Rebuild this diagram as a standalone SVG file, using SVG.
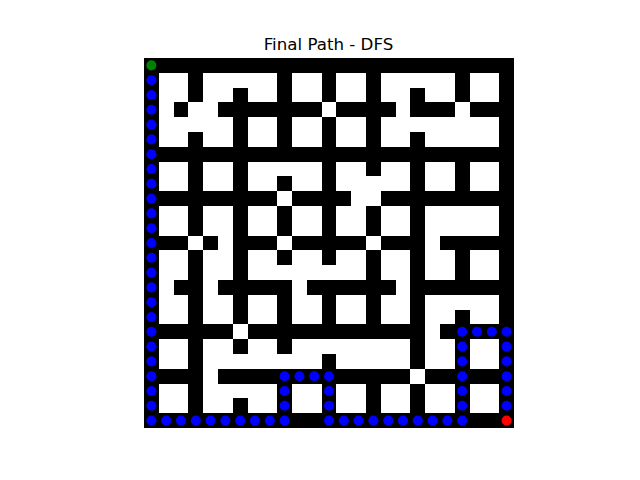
<svg xmlns="http://www.w3.org/2000/svg" width="640" height="480" viewBox="0 0 640 480">
<style>
.w{fill:#ffffff}
.p{fill:#0000ff}
.title{font-family:"DejaVu Sans",sans-serif;font-size:16.67px;fill:#000000}
</style>
<rect x="0" y="0" width="640" height="480" fill="#ffffff"/>
<text class="title" x="328.5" y="49.7" text-anchor="middle">Final Path - DFS</text>
<g id="maze" transform="translate(144,58) scale(14.8)" shape-rendering="crispEdges">
<rect x="0" y="0" width="25" height="25" fill="#000000"/>
<g class="w">
<!-- row 1 -->
<rect x="1" y="1" width="2" height="1"/><rect x="4" y="1" width="5" height="1"/><rect x="10" y="1" width="2" height="1"/><rect x="13" y="1" width="2" height="1"/><rect x="16" y="1" width="5" height="1"/><rect x="22" y="1" width="2" height="1"/>
<!-- row 2 -->
<rect x="1" y="2" width="2" height="1"/><rect x="4" y="2" width="2" height="1"/><rect x="7" y="2" width="2" height="1"/><rect x="10" y="2" width="2" height="1"/><rect x="13" y="2" width="2" height="1"/><rect x="16" y="2" width="2" height="1"/><rect x="19" y="2" width="2" height="1"/><rect x="22" y="2" width="2" height="1"/>
<!-- row 3 -->
<rect x="1" y="3" width="1" height="1"/><rect x="3" y="3" width="2" height="1"/><rect x="12" y="3" width="1" height="1"/><rect x="17" y="3" width="1" height="1"/><rect x="21" y="3" width="1" height="1"/>
<!-- row 4 -->
<rect x="1" y="4" width="5" height="1"/><rect x="7" y="4" width="2" height="1"/><rect x="10" y="4" width="2" height="1"/><rect x="13" y="4" width="2" height="1"/><rect x="16" y="4" width="8" height="1"/>
<!-- row 5 -->
<rect x="1" y="5" width="2" height="1"/><rect x="4" y="5" width="2" height="1"/><rect x="7" y="5" width="2" height="1"/><rect x="10" y="5" width="2" height="1"/><rect x="13" y="5" width="2" height="1"/><rect x="16" y="5" width="2" height="1"/><rect x="19" y="5" width="5" height="1"/>
<!-- row 7 -->
<rect x="1" y="7" width="2" height="1"/><rect x="4" y="7" width="2" height="1"/><rect x="7" y="7" width="5" height="1"/><rect x="13" y="7" width="2" height="1"/><rect x="16" y="7" width="2" height="1"/><rect x="19" y="7" width="2" height="1"/><rect x="22" y="7" width="2" height="1"/>
<!-- row 8 -->
<rect x="1" y="8" width="2" height="1"/><rect x="4" y="8" width="2" height="1"/><rect x="7" y="8" width="2" height="1"/><rect x="10" y="8" width="2" height="1"/><rect x="13" y="8" width="5" height="1"/><rect x="19" y="8" width="2" height="1"/><rect x="22" y="8" width="2" height="1"/>
<!-- row 9 -->
<rect x="9" y="9" width="1" height="1"/><rect x="14" y="9" width="2" height="1"/>
<!-- rows 10-11 -->
<rect x="1" y="10" width="2" height="2"/><rect x="4" y="10" width="2" height="2"/><rect x="7" y="10" width="2" height="2"/><rect x="10" y="10" width="2" height="2"/><rect x="13" y="10" width="2" height="2"/><rect x="16" y="10" width="2" height="2"/><rect x="19" y="10" width="5" height="2"/>
<!-- row 12 -->
<rect x="3" y="12" width="1" height="1"/><rect x="5" y="12" width="1" height="1"/><rect x="9" y="12" width="1" height="1"/><rect x="15" y="12" width="1" height="1"/><rect x="19" y="12" width="1" height="1"/>
<!-- row 13 -->
<rect x="1" y="13" width="2" height="1"/><rect x="4" y="13" width="2" height="1"/><rect x="7" y="13" width="2" height="1"/><rect x="10" y="13" width="2" height="1"/><rect x="13" y="13" width="2" height="1"/><rect x="16" y="13" width="2" height="1"/><rect x="19" y="13" width="2" height="1"/><rect x="22" y="13" width="2" height="1"/>
<!-- row 14 -->
<rect x="1" y="14" width="2" height="1"/><rect x="4" y="14" width="2" height="1"/><rect x="7" y="14" width="8" height="1"/><rect x="16" y="14" width="2" height="1"/><rect x="19" y="14" width="2" height="1"/><rect x="22" y="14" width="2" height="1"/>
<!-- row 15 -->
<rect x="1" y="15" width="1" height="1"/><rect x="4" y="15" width="1" height="1"/><rect x="10" y="15" width="1" height="1"/><rect x="17" y="15" width="1" height="1"/>
<!-- row 16 -->
<rect x="1" y="16" width="2" height="1"/><rect x="4" y="16" width="2" height="1"/><rect x="7" y="16" width="2" height="1"/><rect x="10" y="16" width="2" height="1"/><rect x="13" y="16" width="2" height="1"/><rect x="16" y="16" width="2" height="1"/><rect x="19" y="16" width="5" height="1"/>
<!-- row 17 -->
<rect x="1" y="17" width="2" height="1"/><rect x="4" y="17" width="2" height="1"/><rect x="7" y="17" width="2" height="1"/><rect x="10" y="17" width="2" height="1"/><rect x="13" y="17" width="2" height="1"/><rect x="16" y="17" width="2" height="1"/><rect x="19" y="17" width="2" height="1"/><rect x="22" y="17" width="2" height="1"/>
<!-- row 18 -->
<rect x="6" y="18" width="1" height="1"/><rect x="19" y="18" width="1" height="1"/>
<!-- row 19 -->
<rect x="1" y="19" width="2" height="1"/><rect x="4" y="19" width="2" height="1"/><rect x="7" y="19" width="2" height="1"/><rect x="10" y="19" width="8" height="1"/><rect x="19" y="19" width="2" height="1"/><rect x="22" y="19" width="2" height="1"/>
<!-- row 20 -->
<rect x="1" y="20" width="2" height="1"/><rect x="4" y="20" width="8" height="1"/><rect x="13" y="20" width="5" height="1"/><rect x="19" y="20" width="2" height="1"/><rect x="22" y="20" width="2" height="1"/>
<!-- row 21 -->
<rect x="4" y="21" width="1" height="1"/><rect x="18" y="21" width="1" height="1"/>
<!-- row 22 -->
<rect x="1" y="22" width="2" height="1"/><rect x="4" y="22" width="5" height="1"/><rect x="10" y="22" width="2" height="1"/><rect x="13" y="22" width="2" height="1"/><rect x="16" y="22" width="2" height="1"/><rect x="19" y="22" width="2" height="1"/><rect x="22" y="22" width="2" height="1"/>
<!-- row 23 -->
<rect x="1" y="23" width="2" height="1"/><rect x="4" y="23" width="2" height="1"/><rect x="7" y="23" width="2" height="1"/><rect x="10" y="23" width="2" height="1"/><rect x="13" y="23" width="2" height="1"/><rect x="16" y="23" width="2" height="1"/><rect x="19" y="23" width="2" height="1"/><rect x="22" y="23" width="2" height="1"/>
</g>
</g>
<g id="path" transform="translate(144,58) scale(14.8)">
<defs><circle id="d" r="0.34"/></defs>
<g class="p">
<!-- column 0 rows 1-24 -->
<use href="#d" x="0.5" y="1.5"/><use href="#d" x="0.5" y="2.5"/><use href="#d" x="0.5" y="3.5"/><use href="#d" x="0.5" y="4.5"/><use href="#d" x="0.5" y="5.5"/><use href="#d" x="0.5" y="6.5"/><use href="#d" x="0.5" y="7.5"/><use href="#d" x="0.5" y="8.5"/><use href="#d" x="0.5" y="9.5"/><use href="#d" x="0.5" y="10.5"/><use href="#d" x="0.5" y="11.5"/><use href="#d" x="0.5" y="12.5"/><use href="#d" x="0.5" y="13.5"/><use href="#d" x="0.5" y="14.5"/><use href="#d" x="0.5" y="15.5"/><use href="#d" x="0.5" y="16.5"/><use href="#d" x="0.5" y="17.5"/><use href="#d" x="0.5" y="18.5"/><use href="#d" x="0.5" y="19.5"/><use href="#d" x="0.5" y="20.5"/><use href="#d" x="0.5" y="21.5"/><use href="#d" x="0.5" y="22.5"/><use href="#d" x="0.5" y="23.5"/><use href="#d" x="0.5" y="24.5"/>
<!-- row 24 cols 1-9 -->
<use href="#d" x="1.5" y="24.5"/><use href="#d" x="2.5" y="24.5"/><use href="#d" x="3.5" y="24.5"/><use href="#d" x="4.5" y="24.5"/><use href="#d" x="5.5" y="24.5"/><use href="#d" x="6.5" y="24.5"/><use href="#d" x="7.5" y="24.5"/><use href="#d" x="8.5" y="24.5"/><use href="#d" x="9.5" y="24.5"/>
<!-- column 9 rows 23-21 -->
<use href="#d" x="9.5" y="23.5"/><use href="#d" x="9.5" y="22.5"/><use href="#d" x="9.5" y="21.5"/>
<!-- row 21 cols 10-12 -->
<use href="#d" x="10.5" y="21.5"/><use href="#d" x="11.5" y="21.5"/><use href="#d" x="12.5" y="21.5"/>
<!-- column 12 rows 22-24 -->
<use href="#d" x="12.5" y="22.5"/><use href="#d" x="12.5" y="23.5"/><use href="#d" x="12.5" y="24.5"/>
<!-- row 24 cols 13-21 -->
<use href="#d" x="13.5" y="24.5"/><use href="#d" x="14.5" y="24.5"/><use href="#d" x="15.5" y="24.5"/><use href="#d" x="16.5" y="24.5"/><use href="#d" x="17.5" y="24.5"/><use href="#d" x="18.5" y="24.5"/><use href="#d" x="19.5" y="24.5"/><use href="#d" x="20.5" y="24.5"/><use href="#d" x="21.5" y="24.5"/>
<!-- column 21 rows 23-18 -->
<use href="#d" x="21.5" y="23.5"/><use href="#d" x="21.5" y="22.5"/><use href="#d" x="21.5" y="21.5"/><use href="#d" x="21.5" y="20.5"/><use href="#d" x="21.5" y="19.5"/><use href="#d" x="21.5" y="18.5"/>
<!-- row 18 cols 22-24 -->
<use href="#d" x="22.5" y="18.5"/><use href="#d" x="23.5" y="18.5"/><use href="#d" x="24.5" y="18.5"/>
<!-- column 24 rows 19-23 -->
<use href="#d" x="24.5" y="19.5"/><use href="#d" x="24.5" y="20.5"/><use href="#d" x="24.5" y="21.5"/><use href="#d" x="24.5" y="22.5"/><use href="#d" x="24.5" y="23.5"/>
</g>
<circle id="start" cx="0.5" cy="0.5" r="0.34" fill="#008000"/>
<circle id="goal" cx="24.5" cy="24.5" r="0.34" fill="#ff0000"/>
</g>
</svg>
